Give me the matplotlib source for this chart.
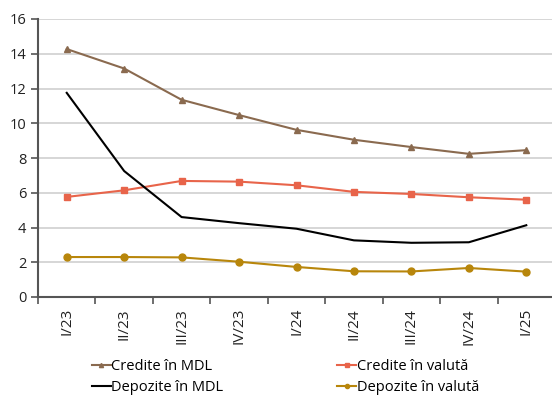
import matplotlib
matplotlib.use("Agg")
import matplotlib.pyplot as plt

quarters = ["I/23", "II/23", "III/23", "IV/23", "I/24", "II/24", "III/24", "IV/24", "I/25"]
credite_mdl = [14.27, 13.15, 11.35, 10.47, 9.62, 9.05, 8.63, 8.24, 8.45]
credite_valuta = [5.76, 6.14, 6.68, 6.64, 6.43, 6.05, 5.93, 5.74, 5.6]
depozite_mdl = [11.75, 7.25, 4.6, 4.25, 3.93, 3.26, 3.12, 3.15, 4.13]
depozite_valuta = [2.3, 2.3, 2.28, 2.03, 1.73, 1.48, 1.47, 1.67, 1.46]
y_ticks = [0, 2, 4, 6, 8, 10, 12, 14, 16]

plt.rcParams["font.family"] = ["Open Sans", "DejaVu Sans"]

fig = plt.figure(figsize=(5.52, 3.96), dpi=100)
W, H = 552, 396
ax = fig.add_axes([38 / W, 1 - 297 / H, 517 / W, (297 - 19) / H])

x = list(range(len(quarters)))
c_brown = "#8a6a4f"
c_red = "#e8644a"
c_gold = "#b8860b"

ax.plot(x, credite_mdl, color=c_brown, lw=1.5, marker="^", ms=5, label="Credite în MDL")
ax.plot(x, credite_valuta, color=c_red, lw=1.5, marker="s", ms=5, label="Credite în valută")
ax.plot(x, depozite_mdl, color="black", lw=1.5, label="Depozite în MDL")
ax.plot(x, depozite_valuta, color=c_gold, lw=1.5, marker="o", ms=5, label="Depozite în valută")

ax.set_ylim(0, 16)
ax.set_yticks(y_ticks)
ax.set_xlim(-0.5, len(quarters) - 0.5)
ax.set_xticks([i + 0.5 for i in range(-1, len(quarters))])
ax.set_xticklabels([])
ax.set_xticks(x, minor=True)
ax.set_xticklabels(quarters, minor=True, rotation=90, fontsize=11, color="#222222")
ax.tick_params(axis="x", which="minor", length=0, pad=8)
ax.tick_params(axis="x", which="major", length=5, width=1.2, color="#555555", direction="out")
ax.tick_params(axis="y", length=5, width=1.2, color="#555555", labelsize=10.5, labelcolor="#222222")

ax.grid(axis="y", color="#d0d0d0", lw=1.2)
ax.set_axisbelow(True)
for s in ["top", "right"]:
    ax.spines[s].set_visible(False)
for s in ["left", "bottom"]:
    ax.spines[s].set_color("#555555")
    ax.spines[s].set_linewidth(1.5)

handles, labels = ax.get_legend_handles_labels()
order = [0, 2, 1, 3]
fig.legend([handles[i] for i in order], [labels[i] for i in order],
           loc="center left", bbox_to_anchor=(80 / W, 1 - 377 / H), ncol=2, frameon=False,
           fontsize=10.5, handlelength=1.3, handletextpad=0.05, columnspacing=7.8,
           labelspacing=0.45, markerscale=0.6, borderpad=0.3)

fig.savefig("out.png", dpi=100)
